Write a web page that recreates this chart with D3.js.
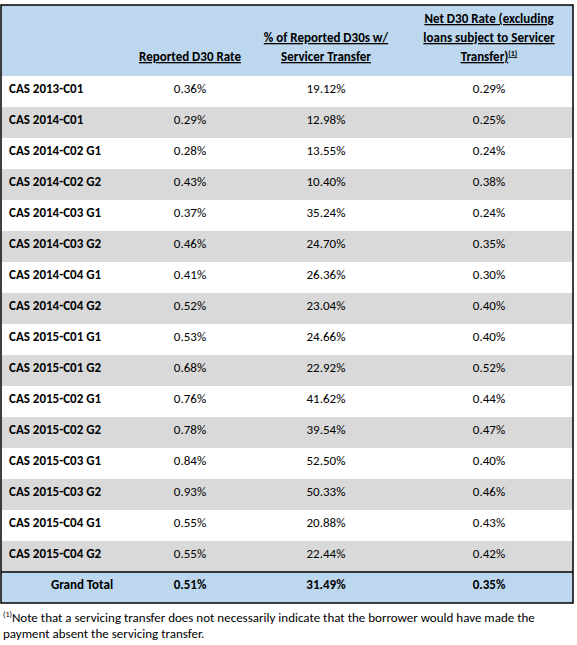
<!DOCTYPE html>
<html><head><meta charset="utf-8">
<script src="https://cdn.jsdelivr.net/npm/d3@7"></script>
<style>body{margin:0;background:#fff}text{font-family:Calibri,Carlito,"Liberation Sans Narrow","Liberation Sans",sans-serif;font-size:13px;fill:#000}</style>
</head><body><div id="chart"></div>
<script>
const deals = ["CAS 2013-C01","CAS 2014-C01","CAS 2014-C02 G1","CAS 2014-C02 G2","CAS 2014-C03 G1","CAS 2014-C03 G2","CAS 2014-C04 G1","CAS 2014-C04 G2","CAS 2015-C01 G1","CAS 2015-C01 G2","CAS 2015-C02 G1","CAS 2015-C02 G2","CAS 2015-C03 G1","CAS 2015-C03 G2","CAS 2015-C04 G1","CAS 2015-C04 G2"];
const reportedD30 = ["0.36%","0.29%","0.28%","0.43%","0.37%","0.46%","0.41%","0.52%","0.53%","0.68%","0.76%","0.78%","0.84%","0.93%","0.55%","0.55%"];
const pctTransfer = ["19.12%","12.98%","13.55%","10.40%","35.24%","24.70%","26.36%","23.04%","24.66%","22.92%","41.62%","39.54%","52.50%","50.33%","20.88%","22.44%"];
const netD30 = ["0.29%","0.25%","0.24%","0.38%","0.24%","0.35%","0.30%","0.40%","0.40%","0.52%","0.44%","0.47%","0.40%","0.46%","0.43%","0.42%"];
const totals = ["Grand Total","0.51%","31.49%","0.35%"];
const headers = [["Reported D30 Rate"],["% of Reported D30s w/","Servicer Transfer"],["Net D30 Rate (excluding","loans subject to Servicer","Transfer)"]];
const footnote = ["Note that a servicing transfer does not necessarily indicate that the borrower would have made the","payment absent the servicing transfer."];

const W = 577, H = 645, L = 1, R = 573, top0 = 5, headH = 71, rowH = 31;
const svg = d3.select("#chart").append("svg").attr("width", W).attr("height", H);
const y = d3.scaleBand().domain(d3.range(deals.length + 1)).range([top0 + headH, top0 + headH + rowH * (deals.length + 1)]);
const colX = [9, 190, 326, 489];

svg.append("rect").attr("x", L).attr("y", top0).attr("width", R - L).attr("height", headH).attr("fill", "#bdd7ee");
const rows = svg.selectAll("g.row").data(deals).join("g").attr("transform", (d, i) => `translate(0,${y(i)})`);
rows.append("rect").attr("x", L).attr("width", R - L).attr("height", rowH).attr("fill", (d, i) => i % 2 ? "#d9d9d9" : "#fff");
rows.append("text").attr("x", colX[0]).attr("y", 17).attr("font-weight", "bold").text(d => d);
[reportedD30, pctTransfer, netD30].forEach((arr, c) => {
  rows.append("text").attr("x", colX[c + 1]).attr("y", 17).attr("text-anchor", "middle").text((d, i) => arr[i]);
});
const tY = y(deals.length);
svg.append("rect").attr("x", L).attr("y", tY).attr("width", R - L).attr("height", rowH).attr("fill", "#bdd7ee");
totals.forEach((t, c) => svg.append("text").attr("x", c ? colX[c] : 82).attr("y", tY + 17).attr("text-anchor", "middle").attr("font-weight", "bold").text(t));
svg.append("line").attr("x1", L).attr("x2", R).attr("y1", tY).attr("y2", tY).attr("stroke", "#000").attr("stroke-width", 1.5);

headers.forEach((lines, c) => {
  const n = lines.length;
  lines.forEach((s, k) => {
    const ty = top0 + 56 - (n - 1 - k) * 19;
    const t = svg.append("text").attr("x", colX[c + 1]).attr("y", ty).attr("text-anchor", "middle").attr("font-weight", "bold").attr("text-decoration", "underline").text(s);
    if (c === 2 && k === n - 1) t.append("tspan").attr("font-size", 8).attr("dy", -5).text("(1)");
  });
});
svg.append("rect").attr("x", L).attr("y", top0).attr("width", R - L).attr("height", tY + rowH - top0).attr("fill", "none").attr("stroke", "#000").attr("stroke-width", 1.5);

footnote.forEach((s, k) => {
  const t = svg.append("text").attr("x", 3).attr("y", 622 + k * 16);
  if (k === 0) t.append("tspan").attr("font-size", 8).attr("dy", -5).text("(1)");
  t.append("tspan").attr("dy", k === 0 ? 5 : 0).text(s);
});
</script></body></html>
